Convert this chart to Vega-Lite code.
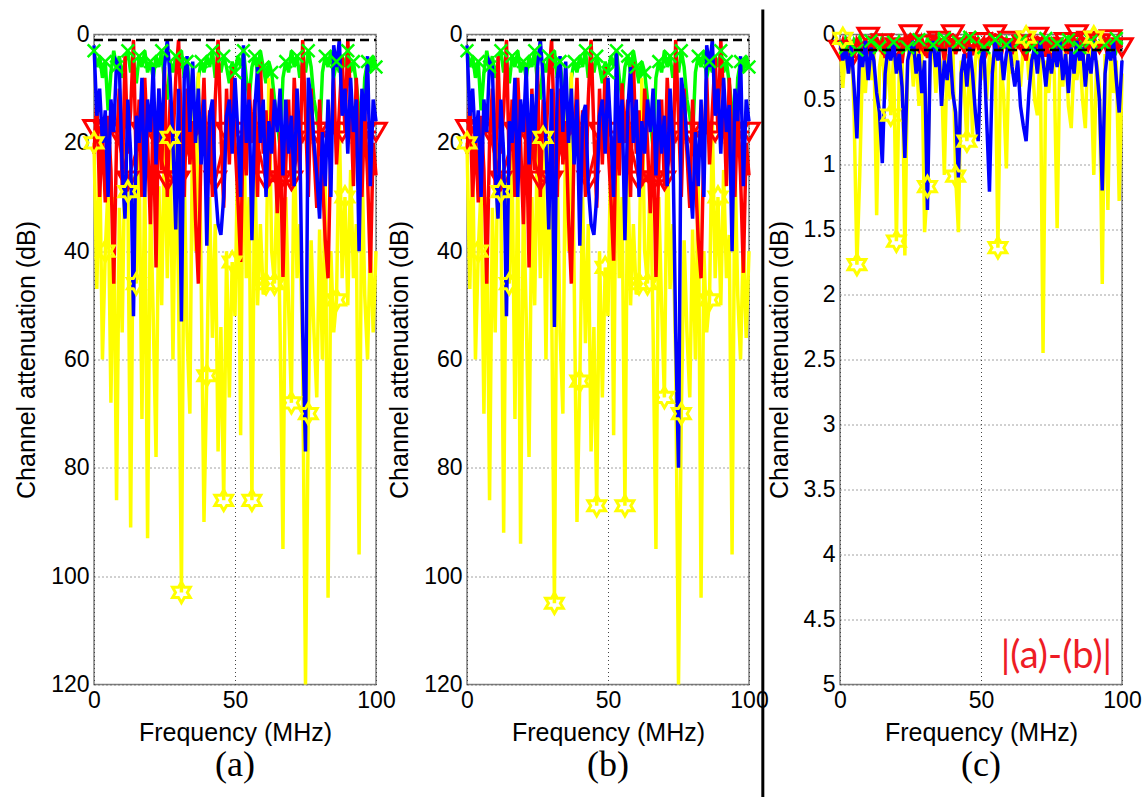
{
"$schema": "https://vega.github.io/schema/vega-lite/v6.json",
"padding": {"left": 13, "top": 6.5, "right": 5, "bottom": 0},
"config": {
 "view": {"stroke": "#808080", "strokeWidth": 1.5},
 "axis": {"labelFont": "Liberation Sans", "labelFontSize": 23, "labelColor": "black", "titleFont": "Liberation Sans", "titleFontSize": 25, "titleFontWeight": "normal", "titleColor": "black", "domain": false, "ticks": false, "tickSize": 0, "grid": true, "gridColor": "#444444", "gridDash": [1, 3], "gridWidth": 1, "labelPadding": 5, "titlePadding": 11, "labelFlush": false, "labelOverlap": false},
 "axisX": {"titlePadding": 8},
 "line": {"strokeWidth": 3.5},
 "title": {"orient": "bottom", "font": "Liberation Serif", "fontSize": 36, "fontWeight": "normal", "color": "black", "offset": 2}
},
"datasets": {
"L": [
{"s":"Y","f":0,"a":20,"b":20,"c":0.05},{"s":"Y","f":1,"a":47,"b":47,"c":0.41},{"s":"Y","f":2,"a":22,"b":22,"c":0.1},{"s":"Y","f":3,"a":60,"b":60,"c":0.3},{"s":"Y","f":4,"a":40,"b":40,"c":0.05},{"s":"Y","f":5,"a":28,"b":28,"c":0.6},{"s":"Y","f":6,"a":68,"b":70,"c":1.77},{"s":"Y","f":7,"a":30,"b":30,"c":1.08},{"s":"Y","f":8,"a":86,"b":86,"c":0.2},{"s":"Y","f":9,"a":32,"b":32,"c":0.45},
{"s":"Y","f":10,"a":55,"b":55,"c":0.1},{"s":"Y","f":11,"a":20,"b":20,"c":0.35},{"s":"Y","f":12,"a":29,"b":29,"c":0.05},{"s":"Y","f":13,"a":91,"b":92,"c":1.39},{"s":"Y","f":14,"a":26,"b":26,"c":0.25},{"s":"Y","f":15,"a":46,"b":46,"c":0.1},{"s":"Y","f":16,"a":22,"b":22,"c":0.5},{"s":"Y","f":17,"a":71,"b":71,"c":0.08},{"s":"Y","f":18,"a":24,"b":24,"c":0.62},{"s":"Y","f":19,"a":93,"b":94,"c":0.15},
{"s":"Y","f":20,"a":30,"b":30,"c":1.59},{"s":"Y","f":21,"a":52,"b":52,"c":0.3},{"s":"Y","f":22,"a":78,"b":78,"c":0.1},{"s":"Y","f":23,"a":28,"b":30,"c":1.7},{"s":"Y","f":24,"a":50,"b":50,"c":0.2},{"s":"Y","f":25,"a":18,"b":18,"c":0.05},{"s":"Y","f":26,"a":45,"b":45,"c":0.4},{"s":"Y","f":27,"a":19,"b":19,"c":0.12},{"s":"Y","f":28,"a":60,"b":60,"c":0.55},{"s":"Y","f":29,"a":20,"b":20,"c":0.1},
{"s":"Y","f":30,"a":48,"b":48,"c":1.52},{"s":"Y","f":31,"a":103,"b":105,"c":1.17},{"s":"Y","f":32,"a":25,"b":25,"c":0.2},{"s":"Y","f":33,"a":55,"b":55,"c":0.05},{"s":"Y","f":34,"a":70,"b":70,"c":0.45},{"s":"Y","f":35,"a":12,"b":12,"c":0.1},{"s":"Y","f":36,"a":40,"b":40,"c":0.3},{"s":"Y","f":37,"a":7,"b":7,"c":1.08},{"s":"Y","f":38,"a":45,"b":45,"c":0.15},{"s":"Y","f":39,"a":90,"b":90,"c":0.5},
{"s":"Y","f":40,"a":63,"b":64,"c":0.05},{"s":"Y","f":41,"a":30,"b":30,"c":1.09},{"s":"Y","f":42,"a":56,"b":57,"c":1.52},{"s":"Y","f":43,"a":35,"b":35,"c":0.2},{"s":"Y","f":44,"a":77,"b":77,"c":0.4},{"s":"Y","f":45,"a":54,"b":54,"c":0.82},{"s":"Y","f":46,"a":86,"b":87,"c":0.1},{"s":"Y","f":47,"a":40,"b":40,"c":0.77},{"s":"Y","f":48,"a":67,"b":67,"c":0.2},{"s":"Y","f":49,"a":42,"b":43,"c":0.05},
{"s":"Y","f":50,"a":52,"b":52,"c":0.35},{"s":"Y","f":51,"a":20,"b":20,"c":0.1},{"s":"Y","f":52,"a":74,"b":74,"c":0.5},{"s":"Y","f":53,"a":10,"b":10,"c":0.15},{"s":"Y","f":54,"a":45,"b":45,"c":0.3},{"s":"Y","f":55,"a":30,"b":30,"c":0.05},{"s":"Y","f":56,"a":86,"b":87,"c":1.64},{"s":"Y","f":57,"a":22,"b":22,"c":0.2},{"s":"Y","f":58,"a":50,"b":50,"c":0.45},{"s":"Y","f":59,"a":35,"b":35,"c":1.03},
{"s":"Y","f":60,"a":48,"b":48,"c":0.1},{"s":"Y","f":61,"a":46,"b":46,"c":0.3},{"s":"Y","f":62,"a":8,"b":8,"c":0.05},{"s":"Y","f":63,"a":40,"b":40,"c":0.25},{"s":"Y","f":64,"a":46,"b":46,"c":0.4},{"s":"Y","f":65,"a":25,"b":25,"c":0.1},{"s":"Y","f":66,"a":55,"b":55,"c":0.02},{"s":"Y","f":67,"a":95,"b":95,"c":0.35},{"s":"Y","f":68,"a":30,"b":30,"c":0.15},{"s":"Y","f":69,"a":50,"b":50,"c":0.5},
{"s":"Y","f":70,"a":68,"b":67,"c":0.62},{"s":"Y","f":71,"a":18,"b":18,"c":0.1},{"s":"Y","f":72,"a":45,"b":47,"c":2.45},{"s":"Y","f":73,"a":35,"b":35,"c":0.2},{"s":"Y","f":74,"a":60,"b":60,"c":0.45},{"s":"Y","f":75,"a":120,"b":120,"c":0.1},{"s":"Y","f":76,"a":70,"b":70,"c":0.3},{"s":"Y","f":77,"a":38,"b":38,"c":1.49},{"s":"Y","f":78,"a":55,"b":55,"c":0.15},{"s":"Y","f":79,"a":67,"b":67,"c":0.4},
{"s":"Y","f":80,"a":36,"b":36,"c":0.1},{"s":"Y","f":81,"a":60,"b":60,"c":0.55},{"s":"Y","f":82,"a":25,"b":25,"c":0.72},{"s":"Y","f":83,"a":104,"b":104,"c":0.2},{"s":"Y","f":84,"a":40,"b":40,"c":0.35},{"s":"Y","f":85,"a":55,"b":55,"c":0.1},{"s":"Y","f":86,"a":49,"b":49,"c":0.5},{"s":"Y","f":87,"a":16,"b":16,"c":0.72},{"s":"Y","f":88,"a":45,"b":45,"c":0.02},{"s":"Y","f":89,"a":30,"b":30,"c":0.3},
{"s":"Y","f":90,"a":50,"b":50,"c":1.08},{"s":"Y","f":91,"a":25,"b":25,"c":0.2},{"s":"Y","f":92,"a":45,"b":45,"c":0.4},{"s":"Y","f":93,"a":35,"b":37,"c":1.92},{"s":"Y","f":94,"a":96,"b":96,"c":0.15},{"s":"Y","f":95,"a":22,"b":23,"c":1.35},{"s":"Y","f":96,"a":48,"b":48,"c":0.1},{"s":"Y","f":97,"a":60,"b":60,"c":0.45},{"s":"Y","f":98,"a":38,"b":38,"c":0.2},{"s":"Y","f":99,"a":55,"b":56,"c":1.28},{"s":"Y","f":100,"a":40,"b":40,"c":0.3},

{"s":"R","f":0,"a":22,"b":22,"c":0.12},{"s":"R","f":1,"a":12,"b":12,"c":0.05},{"s":"R","f":2,"a":30,"b":30,"c":0.15},{"s":"R","f":3,"a":18,"b":18,"c":0.02},{"s":"R","f":4,"a":31,"b":31,"c":0.1},{"s":"R","f":5,"a":15,"b":15,"c":0.18},{"s":"R","f":6,"a":25,"b":25,"c":0.04},{"s":"R","f":7,"a":46,"b":46,"c":0.08},{"s":"R","f":8,"a":20,"b":20,"c":0.2},{"s":"R","f":9,"a":10,"b":10,"c":0.03},
{"s":"R","f":10,"a":28,"b":28,"c":0.12},{"s":"R","f":11,"a":4,"b":4,"c":0.06},{"s":"R","f":12,"a":22,"b":22,"c":0.15},{"s":"R","f":13,"a":14,"b":14,"c":0.02},{"s":"R","f":14,"a":1,"b":1,"c":0.1},{"s":"R","f":15,"a":25,"b":25,"c":0.05},{"s":"R","f":16,"a":12,"b":12,"c":0.18},{"s":"R","f":17,"a":30,"b":30,"c":0.08},{"s":"R","f":18,"a":8,"b":8,"c":0.03},{"s":"R","f":19,"a":20,"b":20,"c":0.14},
{"s":"R","f":20,"a":35,"b":35,"c":0.06},{"s":"R","f":21,"a":15,"b":15,"c":0.1},{"s":"R","f":22,"a":43,"b":43,"c":0.22},{"s":"R","f":23,"a":10,"b":10,"c":0.04},{"s":"R","f":24,"a":25,"b":25,"c":0.09},{"s":"R","f":25,"a":6,"b":6,"c":0.02},{"s":"R","f":26,"a":30,"b":30,"c":0.15},{"s":"R","f":27,"a":12,"b":12,"c":0.07},{"s":"R","f":28,"a":20,"b":20,"c":0.12},{"s":"R","f":29,"a":8,"b":8,"c":0.03},
{"s":"R","f":30,"a":1,"b":1,"c":0.1},{"s":"R","f":31,"a":18,"b":18,"c":0.18},{"s":"R","f":32,"a":30,"b":30,"c":0.05},{"s":"R","f":33,"a":10,"b":10,"c":0.08},{"s":"R","f":34,"a":24,"b":24,"c":0.02},{"s":"R","f":35,"a":16,"b":16,"c":0.13},{"s":"R","f":36,"a":34,"b":34,"c":0.06},{"s":"R","f":37,"a":46,"b":46,"c":0.2},{"s":"R","f":38,"a":20,"b":20,"c":0.04},{"s":"R","f":39,"a":8,"b":8,"c":0.1},
{"s":"R","f":40,"a":26,"b":26,"c":0.03},{"s":"R","f":41,"a":14,"b":14,"c":0.15},{"s":"R","f":42,"a":30,"b":30,"c":0.08},{"s":"R","f":43,"a":12,"b":12,"c":0.05},{"s":"R","f":44,"a":1,"b":1,"c":0.12},{"s":"R","f":45,"a":18,"b":18,"c":0.02},{"s":"R","f":46,"a":32,"b":32,"c":0.09},{"s":"R","f":47,"a":10,"b":10,"c":0.16},{"s":"R","f":48,"a":24,"b":24,"c":0.04},{"s":"R","f":49,"a":6,"b":6,"c":0.1},
{"s":"R","f":50,"a":20,"b":20,"c":0.06},{"s":"R","f":51,"a":30,"b":30,"c":0.03},{"s":"R","f":52,"a":42,"b":42,"c":0.14},{"s":"R","f":53,"a":15,"b":15,"c":0.08},{"s":"R","f":54,"a":26,"b":26,"c":0.02},{"s":"R","f":55,"a":9,"b":9,"c":0.12},{"s":"R","f":56,"a":20,"b":20,"c":0.05},{"s":"R","f":57,"a":12,"b":12,"c":0.18},{"s":"R","f":58,"a":30,"b":30,"c":0.07},{"s":"R","f":59,"a":5,"b":5,"c":0.1},
{"s":"R","f":60,"a":22,"b":22,"c":0.03},{"s":"R","f":61,"a":14,"b":14,"c":0.15},{"s":"R","f":62,"a":28,"b":28,"c":0.06},{"s":"R","f":63,"a":10,"b":10,"c":0.09},{"s":"R","f":64,"a":20,"b":20,"c":0.02},{"s":"R","f":65,"a":33,"b":33,"c":0.12},{"s":"R","f":66,"a":18,"b":18,"c":0.2},{"s":"R","f":67,"a":45,"b":45,"c":0.05},{"s":"R","f":68,"a":24,"b":24,"c":0.08},{"s":"R","f":69,"a":12,"b":12,"c":0.14},
{"s":"R","f":70,"a":28,"b":28,"c":0.03},{"s":"R","f":71,"a":8,"b":8,"c":0.1},{"s":"R","f":72,"a":18,"b":18,"c":0.06},{"s":"R","f":73,"a":26,"b":26,"c":0.17},{"s":"R","f":74,"a":1,"b":1,"c":0.04},{"s":"R","f":75,"a":15,"b":15,"c":0.09},{"s":"R","f":76,"a":30,"b":30,"c":0.02},{"s":"R","f":77,"a":10,"b":10,"c":0.13},{"s":"R","f":78,"a":22,"b":22,"c":0.07},{"s":"R","f":79,"a":32,"b":32,"c":0.1},
{"s":"R","f":80,"a":12,"b":12,"c":0.05},{"s":"R","f":81,"a":26,"b":26,"c":0.15},{"s":"R","f":82,"a":38,"b":38,"c":0.03},{"s":"R","f":83,"a":45,"b":45,"c":0.08},{"s":"R","f":84,"a":20,"b":20,"c":0.12},{"s":"R","f":85,"a":8,"b":8,"c":0.06},{"s":"R","f":86,"a":24,"b":24,"c":0.2},{"s":"R","f":87,"a":14,"b":14,"c":0.04},{"s":"R","f":88,"a":4,"b":4,"c":0.1},{"s":"R","f":89,"a":18,"b":18,"c":0.02},
{"s":"R","f":90,"a":1,"b":1,"c":0.14},{"s":"R","f":91,"a":12,"b":12,"c":0.07},{"s":"R","f":92,"a":28,"b":28,"c":0.11},{"s":"R","f":93,"a":8,"b":8,"c":0.05},{"s":"R","f":94,"a":20,"b":20,"c":0.09},{"s":"R","f":95,"a":30,"b":30,"c":0.16},{"s":"R","f":96,"a":14,"b":14,"c":0.03},{"s":"R","f":97,"a":26,"b":26,"c":0.12},{"s":"R","f":98,"a":44,"b":44,"c":0.06},{"s":"R","f":99,"a":20,"b":20,"c":0.1},{"s":"R","f":100,"a":26,"b":26,"c":0.08},

{"s":"B","f":0,"a":2,"b":2,"c":0.05},{"s":"B","f":1,"a":15,"b":15,"c":0.2},{"s":"B","f":2,"a":10,"b":10,"c":0.1},{"s":"B","f":3,"a":20,"b":20,"c":0.3},{"s":"B","f":4,"a":14,"b":14,"c":0.08},{"s":"B","f":5,"a":30,"b":30,"c":0.4},{"s":"B","f":6,"a":12,"b":12,"c":0.8},{"s":"B","f":7,"a":18,"b":18,"c":0.1},{"s":"B","f":8,"a":5,"b":5,"c":0.25},{"s":"B","f":9,"a":6,"b":6,"c":0.05},
{"s":"B","f":10,"a":25,"b":25,"c":0.35},{"s":"B","f":11,"a":34,"b":34,"c":0.1},{"s":"B","f":12,"a":12,"b":12,"c":0.2},{"s":"B","f":13,"a":22,"b":22,"c":0.45},{"s":"B","f":14,"a":52,"b":52,"c":0.6},{"s":"B","f":15,"a":15,"b":16,"c":0.99},{"s":"B","f":16,"a":20,"b":20,"c":0.3},{"s":"B","f":17,"a":8,"b":8,"c":0.1},{"s":"B","f":18,"a":30,"b":30,"c":0.2},{"s":"B","f":19,"a":12,"b":12,"c":0.05},
{"s":"B","f":20,"a":18,"b":18,"c":0.3},{"s":"B","f":21,"a":6,"b":6,"c":0.15},{"s":"B","f":22,"a":24,"b":24,"c":0.4},{"s":"B","f":23,"a":10,"b":11,"c":0.95},{"s":"B","f":24,"a":20,"b":20,"c":0.2},{"s":"B","f":25,"a":6,"b":6,"c":0.1},{"s":"B","f":26,"a":1,"b":1,"c":0.05},{"s":"B","f":27,"a":8,"b":8,"c":0.3},{"s":"B","f":28,"a":20,"b":20,"c":0.15},{"s":"B","f":29,"a":36,"b":36,"c":0.45},
{"s":"B","f":30,"a":10,"b":10,"c":0.2},{"s":"B","f":31,"a":53,"b":54,"c":1.35},{"s":"B","f":32,"a":8,"b":8,"c":0.15},{"s":"B","f":33,"a":4,"b":4,"c":0.05},{"s":"B","f":34,"a":18,"b":18,"c":0.25},{"s":"B","f":35,"a":5,"b":5,"c":0.1},{"s":"B","f":36,"a":20,"b":20,"c":0.55},{"s":"B","f":37,"a":10,"b":10,"c":0.2},{"s":"B","f":38,"a":24,"b":24,"c":0.35},{"s":"B","f":39,"a":12,"b":12,"c":0.1},
{"s":"B","f":40,"a":39,"b":39,"c":0.45},{"s":"B","f":41,"a":15,"b":15,"c":0.6},{"s":"B","f":42,"a":12,"b":13,"c":1.1},{"s":"B","f":43,"a":28,"b":28,"c":0.3},{"s":"B","f":44,"a":35,"b":35,"c":0.15},{"s":"B","f":45,"a":37,"b":37,"c":0.4},{"s":"B","f":46,"a":30,"b":30,"c":0.1},{"s":"B","f":47,"a":15,"b":15,"c":0.3},{"s":"B","f":48,"a":12,"b":12,"c":0.6},{"s":"B","f":49,"a":22,"b":22,"c":0.82},
{"s":"B","f":50,"a":8,"b":8,"c":0.2},{"s":"B","f":51,"a":18,"b":18,"c":0.1},{"s":"B","f":52,"a":30,"b":30,"c":0.65},{"s":"B","f":53,"a":2,"b":3,"c":1.21},{"s":"B","f":54,"a":20,"b":20,"c":0.3},{"s":"B","f":55,"a":12,"b":12,"c":0.05},{"s":"B","f":56,"a":38,"b":38,"c":0.2},{"s":"B","f":57,"a":14,"b":14,"c":0.1},{"s":"B","f":58,"a":6,"b":6,"c":0.35},{"s":"B","f":59,"a":20,"b":20,"c":0.15},
{"s":"B","f":60,"a":12,"b":12,"c":0.05},{"s":"B","f":61,"a":30,"b":30,"c":0.25},{"s":"B","f":62,"a":16,"b":16,"c":0.4},{"s":"B","f":63,"a":22,"b":22,"c":0.2},{"s":"B","f":64,"a":12,"b":12,"c":0.55},{"s":"B","f":65,"a":18,"b":18,"c":0.7},{"s":"B","f":66,"a":10,"b":10,"c":0.82},{"s":"B","f":67,"a":26,"b":26,"c":0.45},{"s":"B","f":68,"a":12,"b":12,"c":0.2},{"s":"B","f":69,"a":22,"b":22,"c":0.1},
{"s":"B","f":70,"a":15,"b":15,"c":0.3},{"s":"B","f":71,"a":28,"b":28,"c":0.05},{"s":"B","f":72,"a":10,"b":10,"c":0.2},{"s":"B","f":73,"a":20,"b":20,"c":0.4},{"s":"B","f":74,"a":55,"b":55,"c":0.15},{"s":"B","f":75,"a":77,"b":80,"c":0.3},{"s":"B","f":76,"a":8,"b":8,"c":0.1},{"s":"B","f":77,"a":12,"b":12,"c":0.25},{"s":"B","f":78,"a":20,"b":20,"c":0.05},{"s":"B","f":79,"a":26,"b":26,"c":0.35},
{"s":"B","f":80,"a":34,"b":34,"c":0.15},{"s":"B","f":81,"a":18,"b":18,"c":0.45},{"s":"B","f":82,"a":28,"b":28,"c":0.1},{"s":"B","f":83,"a":12,"b":12,"c":0.3},{"s":"B","f":84,"a":30,"b":30,"c":0.05},{"s":"B","f":85,"a":2,"b":2,"c":0.2},{"s":"B","f":86,"a":6,"b":6,"c":0.1},{"s":"B","f":87,"a":1,"b":1,"c":0.4},{"s":"B","f":88,"a":15,"b":15,"c":0.15},{"s":"B","f":89,"a":10,"b":10,"c":0.3},
{"s":"B","f":90,"a":22,"b":22,"c":0.05},{"s":"B","f":91,"a":8,"b":8,"c":0.25},{"s":"B","f":92,"a":18,"b":18,"c":0.5},{"s":"B","f":93,"a":12,"b":13,"c":1.2},{"s":"B","f":94,"a":40,"b":40,"c":0.3},{"s":"B","f":95,"a":10,"b":10,"c":0.1},{"s":"B","f":96,"a":16,"b":16,"c":0.2},{"s":"B","f":97,"a":4,"b":4,"c":0.05},{"s":"B","f":98,"a":28,"b":28,"c":0.35},{"s":"B","f":99,"a":12,"b":12,"c":0.6},{"s":"B","f":100,"a":16,"b":16,"c":0.2},

{"s":"G","f":0,"a":3,"b":3,"c":0.05},{"s":"G","f":1,"a":6,"b":6,"c":0.1},{"s":"G","f":2,"a":4,"b":4,"c":0.03},{"s":"G","f":3,"a":8,"b":8,"c":0.08},{"s":"G","f":4,"a":5,"b":5,"c":0.12},{"s":"G","f":5,"a":14,"b":14,"c":0.04},{"s":"G","f":6,"a":7,"b":7,"c":0.07},{"s":"G","f":7,"a":3,"b":3,"c":0.02},{"s":"G","f":8,"a":6,"b":6,"c":0.1},{"s":"G","f":9,"a":4,"b":4,"c":0.06},
{"s":"G","f":10,"a":8,"b":8,"c":0.09},{"s":"G","f":11,"a":5,"b":5,"c":0.03},{"s":"G","f":12,"a":3,"b":3,"c":0.11},{"s":"G","f":13,"a":7,"b":7,"c":0.05},{"s":"G","f":14,"a":5,"b":5,"c":0.08},{"s":"G","f":15,"a":9,"b":9,"c":0.02},{"s":"G","f":16,"a":4,"b":4,"c":0.07},{"s":"G","f":17,"a":6,"b":6,"c":0.12},{"s":"G","f":18,"a":3,"b":3,"c":0.04},{"s":"G","f":19,"a":7,"b":7,"c":0.06},
{"s":"G","f":20,"a":5,"b":5,"c":0.1},{"s":"G","f":21,"a":8,"b":8,"c":0.03},{"s":"G","f":22,"a":4,"b":4,"c":0.08},{"s":"G","f":23,"a":6,"b":6,"c":0.05},{"s":"G","f":24,"a":3,"b":3,"c":0.11},{"s":"G","f":25,"a":9,"b":9,"c":0.02},{"s":"G","f":26,"a":12,"b":12,"c":0.07},{"s":"G","f":27,"a":5,"b":5,"c":0.09},{"s":"G","f":28,"a":7,"b":7,"c":0.04},{"s":"G","f":29,"a":4,"b":4,"c":0.06},
{"s":"G","f":30,"a":6,"b":6,"c":0.12},{"s":"G","f":31,"a":3,"b":3,"c":0.03},{"s":"G","f":32,"a":8,"b":8,"c":0.08},{"s":"G","f":33,"a":5,"b":5,"c":0.05},{"s":"G","f":34,"a":10,"b":10,"c":0.1},{"s":"G","f":35,"a":14,"b":14,"c":0.02},{"s":"G","f":36,"a":21,"b":21,"c":0.06},{"s":"G","f":37,"a":8,"b":8,"c":0.09},{"s":"G","f":38,"a":5,"b":5,"c":0.04},{"s":"G","f":39,"a":7,"b":7,"c":0.07},
{"s":"G","f":40,"a":4,"b":4,"c":0.11},{"s":"G","f":41,"a":6,"b":6,"c":0.03},{"s":"G","f":42,"a":3,"b":3,"c":0.05},{"s":"G","f":43,"a":8,"b":8,"c":0.08},{"s":"G","f":44,"a":5,"b":5,"c":0.02},{"s":"G","f":45,"a":7,"b":7,"c":0.1},{"s":"G","f":46,"a":4,"b":4,"c":0.06},{"s":"G","f":47,"a":6,"b":6,"c":0.04},{"s":"G","f":48,"a":9,"b":9,"c":0.09},{"s":"G","f":49,"a":5,"b":5,"c":0.03},
{"s":"G","f":50,"a":7,"b":7,"c":0.07},{"s":"G","f":51,"a":4,"b":4,"c":0.12},{"s":"G","f":52,"a":6,"b":6,"c":0.05},{"s":"G","f":53,"a":3,"b":3,"c":0.08},{"s":"G","f":54,"a":8,"b":8,"c":0.02},{"s":"G","f":55,"a":12,"b":12,"c":0.06},{"s":"G","f":56,"a":6,"b":6,"c":0.1},{"s":"G","f":57,"a":4,"b":4,"c":0.04},{"s":"G","f":58,"a":7,"b":7,"c":0.07},{"s":"G","f":59,"a":3,"b":3,"c":0.03},
{"s":"G","f":60,"a":6,"b":6,"c":0.09},{"s":"G","f":61,"a":9,"b":9,"c":0.05},{"s":"G","f":62,"a":5,"b":5,"c":0.11},{"s":"G","f":63,"a":7,"b":7,"c":0.02},{"s":"G","f":64,"a":12,"b":12,"c":0.06},{"s":"G","f":65,"a":16,"b":16,"c":0.08},{"s":"G","f":66,"a":21,"b":21,"c":0.04},{"s":"G","f":67,"a":8,"b":8,"c":0.1},{"s":"G","f":68,"a":5,"b":5,"c":0.03},{"s":"G","f":69,"a":7,"b":7,"c":0.07},
{"s":"G","f":70,"a":3,"b":3,"c":0.05},{"s":"G","f":71,"a":6,"b":6,"c":0.09},{"s":"G","f":72,"a":4,"b":4,"c":0.02},{"s":"G","f":73,"a":8,"b":8,"c":0.06},{"s":"G","f":74,"a":5,"b":5,"c":0.12},{"s":"G","f":75,"a":7,"b":7,"c":0.04},{"s":"G","f":76,"a":3,"b":3,"c":0.08},{"s":"G","f":77,"a":6,"b":6,"c":0.03},{"s":"G","f":78,"a":12,"b":12,"c":0.1},{"s":"G","f":79,"a":15,"b":15,"c":0.05},
{"s":"G","f":80,"a":19,"b":19,"c":0.07},{"s":"G","f":81,"a":7,"b":7,"c":0.02},{"s":"G","f":82,"a":4,"b":4,"c":0.09},{"s":"G","f":83,"a":6,"b":6,"c":0.06},{"s":"G","f":84,"a":3,"b":3,"c":0.04},{"s":"G","f":85,"a":8,"b":8,"c":0.11},{"s":"G","f":86,"a":5,"b":5,"c":0.03},{"s":"G","f":87,"a":7,"b":7,"c":0.08},{"s":"G","f":88,"a":4,"b":4,"c":0.05},{"s":"G","f":89,"a":6,"b":6,"c":0.07},
{"s":"G","f":90,"a":3,"b":3,"c":0.02},{"s":"G","f":91,"a":7,"b":7,"c":0.1},{"s":"G","f":92,"a":5,"b":5,"c":0.06},{"s":"G","f":93,"a":9,"b":9,"c":0.04},{"s":"G","f":94,"a":14,"b":14,"c":0.09},{"s":"G","f":95,"a":21,"b":21,"c":0.03},{"s":"G","f":96,"a":8,"b":8,"c":0.08},{"s":"G","f":97,"a":5,"b":5,"c":0.05},{"s":"G","f":98,"a":7,"b":7,"c":0.12},{"s":"G","f":99,"a":4,"b":4,"c":0.04},{"s":"G","f":100,"a":6,"b":6,"c":0.07}
],
"M": [
{"s":"Y","f":0,"a":20,"b":20},{"s":"Y","f":4,"a":40,"b":40},{"s":"Y","f":12,"a":29,"b":29},{"s":"Y","f":15,"a":46,"b":46},{"s":"Y","f":27,"a":19,"b":19},{"s":"Y","f":31,"a":103,"b":105},{"s":"Y","f":40,"a":63,"b":64},{"s":"Y","f":46,"a":86,"b":87},{"s":"Y","f":49,"a":42,"b":43},{"s":"Y","f":56,"a":86,"b":87},{"s":"Y","f":61,"a":46,"b":46},{"s":"Y","f":64,"a":46,"b":46},{"s":"Y","f":70,"a":68,"b":67},{"s":"Y","f":76,"a":70,"b":70},{"s":"Y","f":86,"a":49,"b":49},{"s":"Y","f":89,"a":30,"b":30},
{"s":"Y","f":1,"c":0.03},{"s":"Y","f":6,"c":1.77},{"s":"Y","f":18,"c":0.62},{"s":"Y","f":20,"c":1.59},{"s":"Y","f":31,"c":1.17},{"s":"Y","f":41,"c":1.09},{"s":"Y","f":45,"c":0.82},{"s":"Y","f":56,"c":1.64},{"s":"Y","f":66,"c":0.02},{"s":"Y","f":90,"c":0.02},
{"s":"R","f":0,"a":17.5,"b":17.5},{"s":"R","f":4,"a":18,"b":18},{"s":"R","f":8,"a":18,"b":18},{"s":"R","f":12,"a":27,"b":27},{"s":"R","f":17,"a":18,"b":18},{"s":"R","f":21,"a":18,"b":18},{"s":"R","f":26,"a":27,"b":27},{"s":"R","f":30,"a":27,"b":27},{"s":"R","f":35,"a":18,"b":18},{"s":"R","f":39,"a":18,"b":18},{"s":"R","f":43,"a":27,"b":27},{"s":"R","f":47,"a":18,"b":18},{"s":"R","f":52,"a":18,"b":18},{"s":"R","f":57,"a":18,"b":18},{"s":"R","f":61,"a":27,"b":27},{"s":"R","f":66,"a":27,"b":27},{"s":"R","f":70,"a":27,"b":27},{"s":"R","f":74,"a":18,"b":18},{"s":"R","f":79,"a":18,"b":18},{"s":"R","f":83,"a":18,"b":18},{"s":"R","f":88,"a":18,"b":18},{"s":"R","f":92,"a":18,"b":18},{"s":"R","f":96,"a":18,"b":18},{"s":"R","f":100,"a":18,"b":18},
{"s":"R","f":0,"c":0.12},{"s":"R","f":5,"c":0.15},{"s":"R","f":10,"c":0.02},{"s":"R","f":15,"c":0.07},{"s":"R","f":20,"c":0.1},{"s":"R","f":25,"c":0.0},{"s":"R","f":30,"c":0.08},{"s":"R","f":35,"c":0.05},{"s":"R","f":40,"c":0.0},{"s":"R","f":45,"c":0.1},{"s":"R","f":50,"c":0.06},{"s":"R","f":55,"c":0.0},{"s":"R","f":60,"c":0.05},{"s":"R","f":65,"c":0.08},{"s":"R","f":70,"c":0.02},{"s":"R","f":75,"c":0.1},{"s":"R","f":80,"c":0.06},{"s":"R","f":84,"c":0.0},{"s":"R","f":88,"c":0.05},{"s":"R","f":92,"c":0.07},{"s":"R","f":96,"c":0.04},{"s":"R","f":100,"c":0.1},
{"s":"G","f":0,"a":3,"b":3},{"s":"G","f":4,"a":5,"b":5},{"s":"G","f":8,"a":6,"b":6},{"s":"G","f":12,"a":3,"b":3},{"s":"G","f":16,"a":4,"b":4},{"s":"G","f":20,"a":5,"b":5},{"s":"G","f":24,"a":3,"b":3},{"s":"G","f":29,"a":4,"b":4},{"s":"G","f":33,"a":5,"b":5},{"s":"G","f":38,"a":5,"b":5},{"s":"G","f":42,"a":3,"b":3},{"s":"G","f":46,"a":4,"b":4},{"s":"G","f":50,"a":7,"b":7},{"s":"G","f":53,"a":3,"b":3},{"s":"G","f":57,"a":4,"b":4},{"s":"G","f":60,"a":6,"b":6},{"s":"G","f":63,"a":7,"b":7},{"s":"G","f":68,"a":5,"b":5},{"s":"G","f":72,"a":4,"b":4},{"s":"G","f":76,"a":3,"b":3},{"s":"G","f":82,"a":4,"b":4},{"s":"G","f":86,"a":5,"b":5},{"s":"G","f":90,"a":3,"b":3},{"s":"G","f":92,"a":5,"b":5},{"s":"G","f":97,"a":5,"b":5},{"s":"G","f":100,"a":6,"b":6},
{"s":"G","f":2,"c":0.1},{"s":"G","f":6,"c":0.12},{"s":"G","f":11,"c":0.05},{"s":"G","f":14,"c":0.1},{"s":"G","f":19,"c":0.06},{"s":"G","f":24,"c":0.1},{"s":"G","f":28,"c":0.04},{"s":"G","f":33,"c":0.08},{"s":"G","f":37,"c":0.03},{"s":"G","f":42,"c":0.06},{"s":"G","f":46,"c":0.02},{"s":"G","f":51,"c":0.1},{"s":"G","f":55,"c":0.04},{"s":"G","f":59,"c":0.08},{"s":"G","f":64,"c":0.05},{"s":"G","f":68,"c":0.1},{"s":"G","f":73,"c":0.03},{"s":"G","f":77,"c":0.07},{"s":"G","f":81,"c":0.04},{"s":"G","f":85,"c":0.1},{"s":"G","f":89,"c":0.05},{"s":"G","f":94,"c":0.08},{"s":"G","f":98,"c":0.03}
]
},
"bounds": "flush",
"spacing": 91,
"hconcat": [
 {
  "width": 282, "height": 650,
  "title": {"text": "(a)"},
  "data": {"name": "L"},
  "encoding": {
   "x": {"field": "f", "type": "quantitative", "title": "Frequency (MHz)", "scale": {"domain": [0, 100], "nice": false}, "axis": {"values": [0, 50, 100]}},
   "y": {"field": "a", "type": "quantitative", "title": "Channel attenuation (dB)", "scale": {"domain": [0, 120], "reverse": true, "nice": false}, "axis": {"values": [0, 20, 40, 60, 80, 100, 120]}}
  },
  "layer": [
   {"transform": [{"filter": "datum.s=='G'"}], "mark": {"type": "line", "color": "#00ff00"}},
   {"transform": [{"filter": "datum.s=='Y'"}], "mark": {"type": "line", "color": "#ffff00"}},
   {"transform": [{"filter": "datum.s=='R'"}], "mark": {"type": "line", "color": "#ff0000"}},
   {"data": {"name": "M"}, "transform": [{"filter": "datum.s=='R' && isValid(datum.a)"}], "mark": {"type": "line", "color": "#ff0000", "strokeWidth": 3}},
   {"data": {"name": "M"}, "transform": [{"filter": "datum.s=='R' && isValid(datum.a)"}], "mark": {"type": "point", "shape": "triangle-down", "color": "#ff0000", "filled": false, "size": 420, "strokeWidth": 3, "opacity": 1}},
   {"transform": [{"filter": "datum.s=='B'"}], "mark": {"type": "line", "color": "#0000ff"}},
   {"data": {"name": "M"}, "transform": [{"filter": "datum.s=='G' && isValid(datum.a)"}], "mark": {"type": "point", "shape": "M-1,-1L1,1M-1,1L1,-1", "color": "#00ff00", "filled": false, "size": 160, "strokeWidth": 2.5, "opacity": 1}},
   {"data": {"name": "M"}, "transform": [{"filter": "datum.s=='Y' && isValid(datum.a)"}], "mark": {"type": "point", "shape": "M0,-1L0.289,-0.5L0.866,-0.5L0.577,0L0.866,0.5L0.289,0.5L0,1L-0.289,0.5L-0.866,0.5L-0.577,0L-0.866,-0.5L-0.289,-0.5Z", "color": "#ffff00", "filled": false, "size": 420, "strokeWidth": 3, "opacity": 1}},
   {"transform": [{"filter": "datum.s=='G'"}], "mark": {"type": "line", "color": "black", "strokeWidth": 2.5, "strokeDash": [9, 5]}, "encoding": {"y": {"datum": 1}}}
  ]
 },
 {
  "width": 282, "height": 650,
  "title": {"text": "(b)", "offset": -52},
  "data": {"name": "L"},
  "encoding": {
   "x": {"field": "f", "type": "quantitative", "title": "Frequency (MHz)", "scale": {"domain": [0, 100], "nice": false}, "axis": {"values": [0, 50, 100]}},
   "y": {"field": "b", "type": "quantitative", "title": "Channel attenuation (dB)", "scale": {"domain": [0, 120], "reverse": true, "nice": false}, "axis": {"values": [0, 20, 40, 60, 80, 100, 120]}}
  },
  "layer": [
   {"transform": [{"filter": "datum.s=='G'"}], "mark": {"type": "line", "color": "#00ff00"}},
   {"transform": [{"filter": "datum.s=='Y'"}], "mark": {"type": "line", "color": "#ffff00"}},
   {"transform": [{"filter": "datum.s=='R'"}], "mark": {"type": "line", "color": "#ff0000"}},
   {"data": {"name": "M"}, "transform": [{"filter": "datum.s=='R' && isValid(datum.b)"}], "mark": {"type": "line", "color": "#ff0000", "strokeWidth": 3}},
   {"data": {"name": "M"}, "transform": [{"filter": "datum.s=='R' && isValid(datum.b)"}], "mark": {"type": "point", "shape": "triangle-down", "color": "#ff0000", "filled": false, "size": 420, "strokeWidth": 3, "opacity": 1}},
   {"transform": [{"filter": "datum.s=='B'"}], "mark": {"type": "line", "color": "#0000ff"}},
   {"data": {"name": "M"}, "transform": [{"filter": "datum.s=='G' && isValid(datum.b)"}], "mark": {"type": "point", "shape": "M-1,-1L1,1M-1,1L1,-1", "color": "#00ff00", "filled": false, "size": 160, "strokeWidth": 2.5, "opacity": 1}},
   {"data": {"name": "M"}, "transform": [{"filter": "datum.s=='Y' && isValid(datum.b)"}], "mark": {"type": "point", "shape": "M0,-1L0.289,-0.5L0.866,-0.5L0.577,0L0.866,0.5L0.289,0.5L0,1L-0.289,0.5L-0.866,0.5L-0.577,0L-0.866,-0.5L-0.289,-0.5Z", "color": "#ffff00", "filled": false, "size": 420, "strokeWidth": 3, "opacity": 1}},
   {"transform": [{"filter": "datum.s=='G'"}], "mark": {"type": "line", "color": "black", "strokeWidth": 2.5, "strokeDash": [9, 5]}, "encoding": {"y": {"datum": 1}}},
   {"transform": [{"filter": "datum.s=='G' && datum.f==0"}], "mark": {"type": "rule", "color": "black", "strokeWidth": 3, "clip": false}, "encoding": {"x": {"datum": 104.9}, "y": {"datum": -4.6}, "y2": {"datum": 141}}}
  ]
 },
 {
  "width": 282, "height": 650,
  "title": {"text": "(c)"},
  "data": {"name": "L"},
  "encoding": {
   "x": {"field": "f", "type": "quantitative", "title": "Frequency (MHz)", "scale": {"domain": [0, 100], "nice": false}, "axis": {"values": [0, 50, 100]}},
   "y": {"field": "c", "type": "quantitative", "title": "Channel attenuation (dB)", "scale": {"domain": [0, 5], "reverse": true, "nice": false}, "axis": {"values": [0, 0.5, 1, 1.5, 2, 2.5, 3, 3.5, 4, 4.5, 5], "format": "~g"}}
  },
  "layer": [
   {"transform": [{"filter": "datum.s=='G'"}], "mark": {"type": "line", "color": "#00ff00"}},
   {"transform": [{"filter": "datum.s=='Y'"}], "mark": {"type": "line", "color": "#ffff00"}},
   {"transform": [{"filter": "datum.s=='R'"}], "mark": {"type": "line", "color": "#ff0000"}},
   {"data": {"name": "M"}, "transform": [{"filter": "datum.s=='R' && isValid(datum.c)"}], "mark": {"type": "line", "color": "#ff0000", "strokeWidth": 3}},
   {"data": {"name": "M"}, "transform": [{"filter": "datum.s=='R' && isValid(datum.c)"}], "mark": {"type": "point", "shape": "triangle-down", "color": "#ff0000", "filled": false, "size": 420, "strokeWidth": 3, "opacity": 1}},
   {"transform": [{"filter": "datum.s=='B'"}], "mark": {"type": "line", "color": "#0000ff"}},
   {"data": {"name": "M"}, "transform": [{"filter": "datum.s=='G' && isValid(datum.c)"}], "mark": {"type": "point", "shape": "M-1,-1L1,1M-1,1L1,-1", "color": "#00ff00", "filled": false, "size": 160, "strokeWidth": 2.5, "opacity": 1}},
   {"data": {"name": "M"}, "transform": [{"filter": "datum.s=='Y' && isValid(datum.c)"}], "mark": {"type": "point", "shape": "M0,-1L0.289,-0.5L0.866,-0.5L0.577,0L0.866,0.5L0.289,0.5L0,1L-0.289,0.5L-0.866,0.5L-0.577,0L-0.866,-0.5L-0.289,-0.5Z", "color": "#ffff00", "filled": false, "size": 420, "strokeWidth": 3, "opacity": 1}},
   {"transform": [{"filter": "datum.s=='G'"}], "mark": {"type": "line", "color": "black", "strokeWidth": 2.5, "strokeDash": [9, 5]}, "encoding": {"y": {"datum": 0.12}}},
   {"transform": [{"filter": "datum.s=='G' && datum.f==0"}], "mark": {"type": "text", "color": "#ee1c25", "font": "Lato", "fontSize": 38, "align": "right", "baseline": "alphabetic", "text": "|(a)-(b)|"}, "encoding": {"x": {"datum": 96.5}, "y": {"datum": 4.87}}}
  ]
 }
]
}
